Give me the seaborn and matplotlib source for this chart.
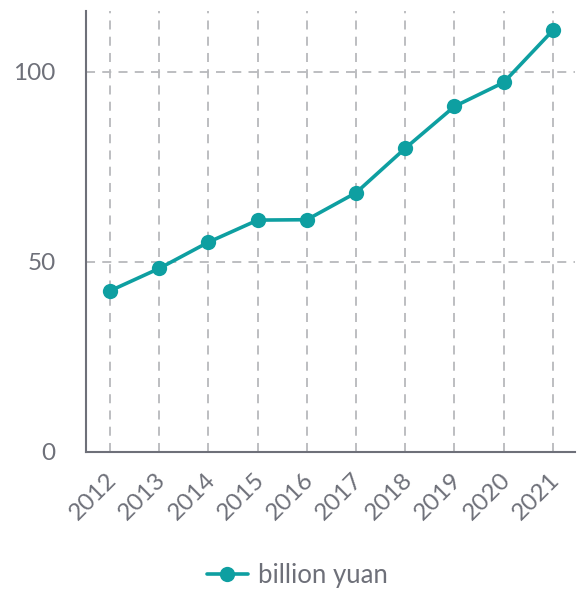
import matplotlib
matplotlib.use("Agg")
import matplotlib.pyplot as plt
import matplotlib.transforms as mtransforms
import seaborn as sns
import pandas as pd

years = ["2012", "2013", "2014", "2015", "2016", "2017", "2018", "2019", "2020", "2021"]
values = [42.4, 48.3, 55.2, 61.0, 61.1, 68.2, 79.9, 90.9, 97.2, 110.9]
series_name = "billion yuan"

df = pd.DataFrame({"year": years, "value": values, "series": series_name})
df["pos"] = range(len(years))

sns.set_theme(style="white")
plt.rcParams["font.family"] = ["Lato", "DejaVu Sans"]

text_color = "#6e7079"
line_color = "#0e9fa1"
grid_color = "#b8b9bc"

fig = plt.figure(figsize=(5.77, 5.90), dpi=100)
ax = fig.add_axes([86 / 577, (590 - 452) / 590, (575 - 86) / 577, (452 - 11) / 590])

sns.lineplot(data=df, x="pos", y="value", hue="series", palette=[line_color],
             marker="o", markersize=11, markeredgewidth=0, linewidth=2.6, ax=ax)

ax.set_xlim(-0.49, 9.45)
ax.set_ylim(0, 116)
ax.set_xticks(range(len(years)))
ax.set_xticklabels(years, rotation=45, ha="right", rotation_mode="anchor")
ax.set_yticks([0, 50, 100])
ax.set_xlabel("")
ax.set_ylabel("")

ax.grid(True, which="major", axis="both", color=grid_color, linestyle=(0, (5, 4)), linewidth=1.3)
ax.set_axisbelow(True)

for side in ["top", "right"]:
    ax.spines[side].set_visible(False)
for side in ["left", "bottom"]:
    ax.spines[side].set_color(text_color)
    ax.spines[side].set_linewidth(1.5)

ax.tick_params(axis="both", labelsize=17.5, labelcolor=text_color)
ax.tick_params(axis="x", direction="in", length=4, width=1, color="#9a9ea4", pad=12)
ax.tick_params(axis="y", length=0, pad=22)

# nudge the rotated year labels so their ends sit under the ticks
shift = mtransforms.ScaledTranslation(-4 / 100, 0, fig.dpi_scale_trans)
for lbl in ax.get_xticklabels():
    lbl.set_transform(lbl.get_transform() + shift)

ax.legend(loc="center", bbox_to_anchor=(0.432, -0.279), frameon=False,
          fontsize=18.5, labelcolor=text_color, handlelength=1.6, handletextpad=0.4)

fig.savefig("out.png", dpi=100)
